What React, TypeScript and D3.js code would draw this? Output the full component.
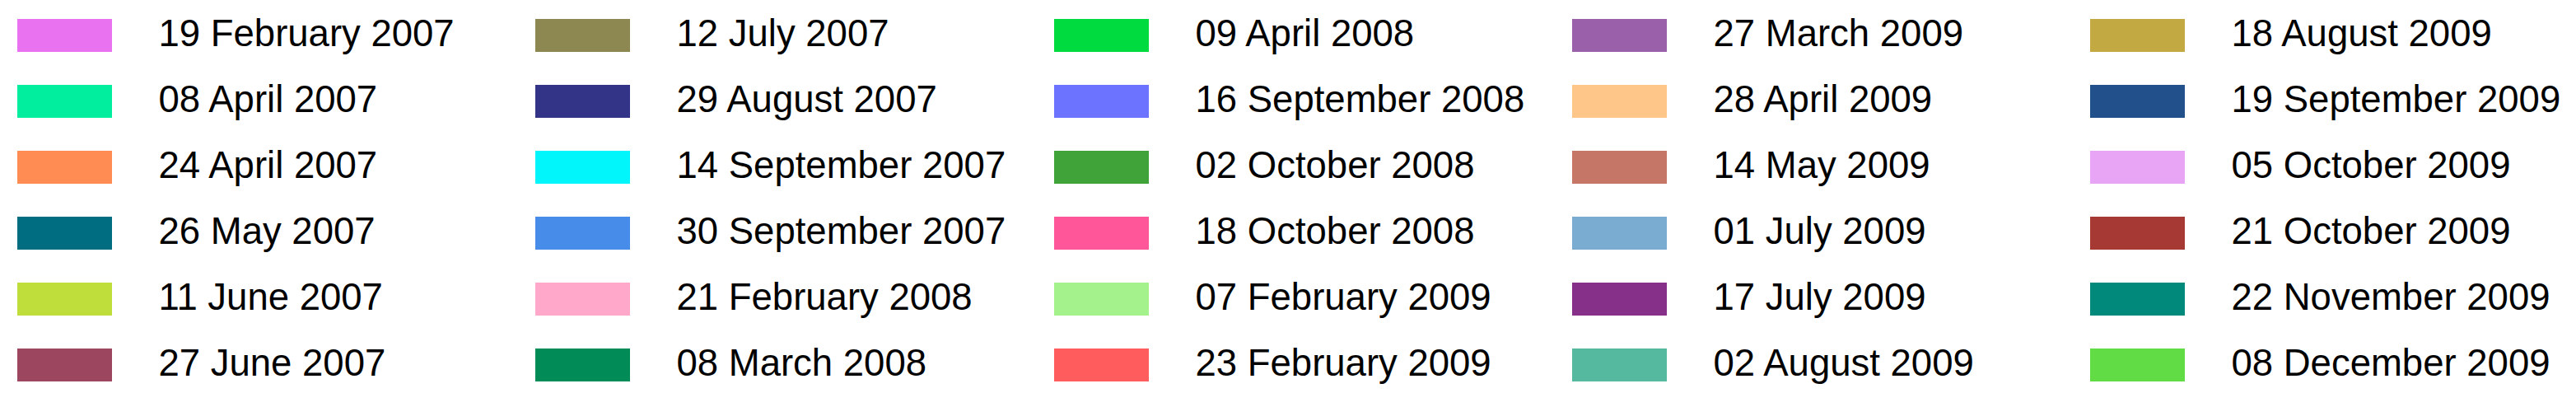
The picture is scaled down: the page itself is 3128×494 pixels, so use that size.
import React from "react";
import * as d3 from "d3";

// ---- data ----
const labels: string[] = [
  "19 February 2007", "08 April 2007", "24 April 2007", "26 May 2007", "11 June 2007", "27 June 2007",
  "12 July 2007", "29 August 2007", "14 September 2007", "30 September 2007", "21 February 2008", "08 March 2008",
  "09 April 2008", "16 September 2008", "02 October 2008", "18 October 2008", "07 February 2009", "23 February 2009",
  "27 March 2009", "28 April 2009", "14 May 2009", "01 July 2009", "17 July 2009", "02 August 2009",
  "18 August 2009", "19 September 2009", "05 October 2009", "21 October 2009", "22 November 2009", "08 December 2009",
];

const colors: string[] = [
  "#e872ef", "#00ee9e", "#ff8c52", "#016d80", "#bfdd3b", "#9c475f",
  "#8d8752", "#333388", "#00f6fa", "#478ce8", "#ffa8ca", "#008b57",
  "#00dc3f", "#6c74ff", "#3fa33a", "#ff5599", "#a4f28c", "#ff5c5e",
  "#9a61aa", "#ffc68a", "#c67666", "#7aabd0", "#86308a", "#55b9a0",
  "#c2a942", "#22508a", "#e8a5f5", "#a63933", "#01897c", "#62dc44",
];

// ---- layout ----
const W = 3128;
const H = 494;
const ROWS = 6;
const COLS = 5;
const swatchW = 115;
const swatchH = 40;
const textOffset = 171.5;

export default function App() {
  const x = d3.scaleLinear().domain([0, COLS - 1]).range([21, 2538]);
  const y = d3.scaleLinear().domain([0, ROWS - 1]).range([23, 423]);
  const items = labels.map((label, i) => ({
    label,
    color: colors[i],
    col: Math.floor(i / ROWS),
    row: i % ROWS,
  }));
  return (
    <svg
      width={W}
      height={H}
      style={{ position: "absolute", left: 0, top: 0, background: "#fff" }}
    >
      <rect x={0} y={0} width={W} height={H} fill="#fff" />
      {items.map((d, i) => {
        const top = Math.round(y(d.row));
        const left = Math.round(x(d.col));
        return (
          <g key={i}>
            <rect x={left} y={top} width={swatchW} height={swatchH} fill={d.color} />
            <text
              x={left + textOffset}
              y={top + 33}
              fontFamily="'Liberation Sans', Arial, sans-serif"
              fontSize={45.5}
              fill="#000"
            >
              {d.label}
            </text>
          </g>
        );
      })}
    </svg>
  );
}
